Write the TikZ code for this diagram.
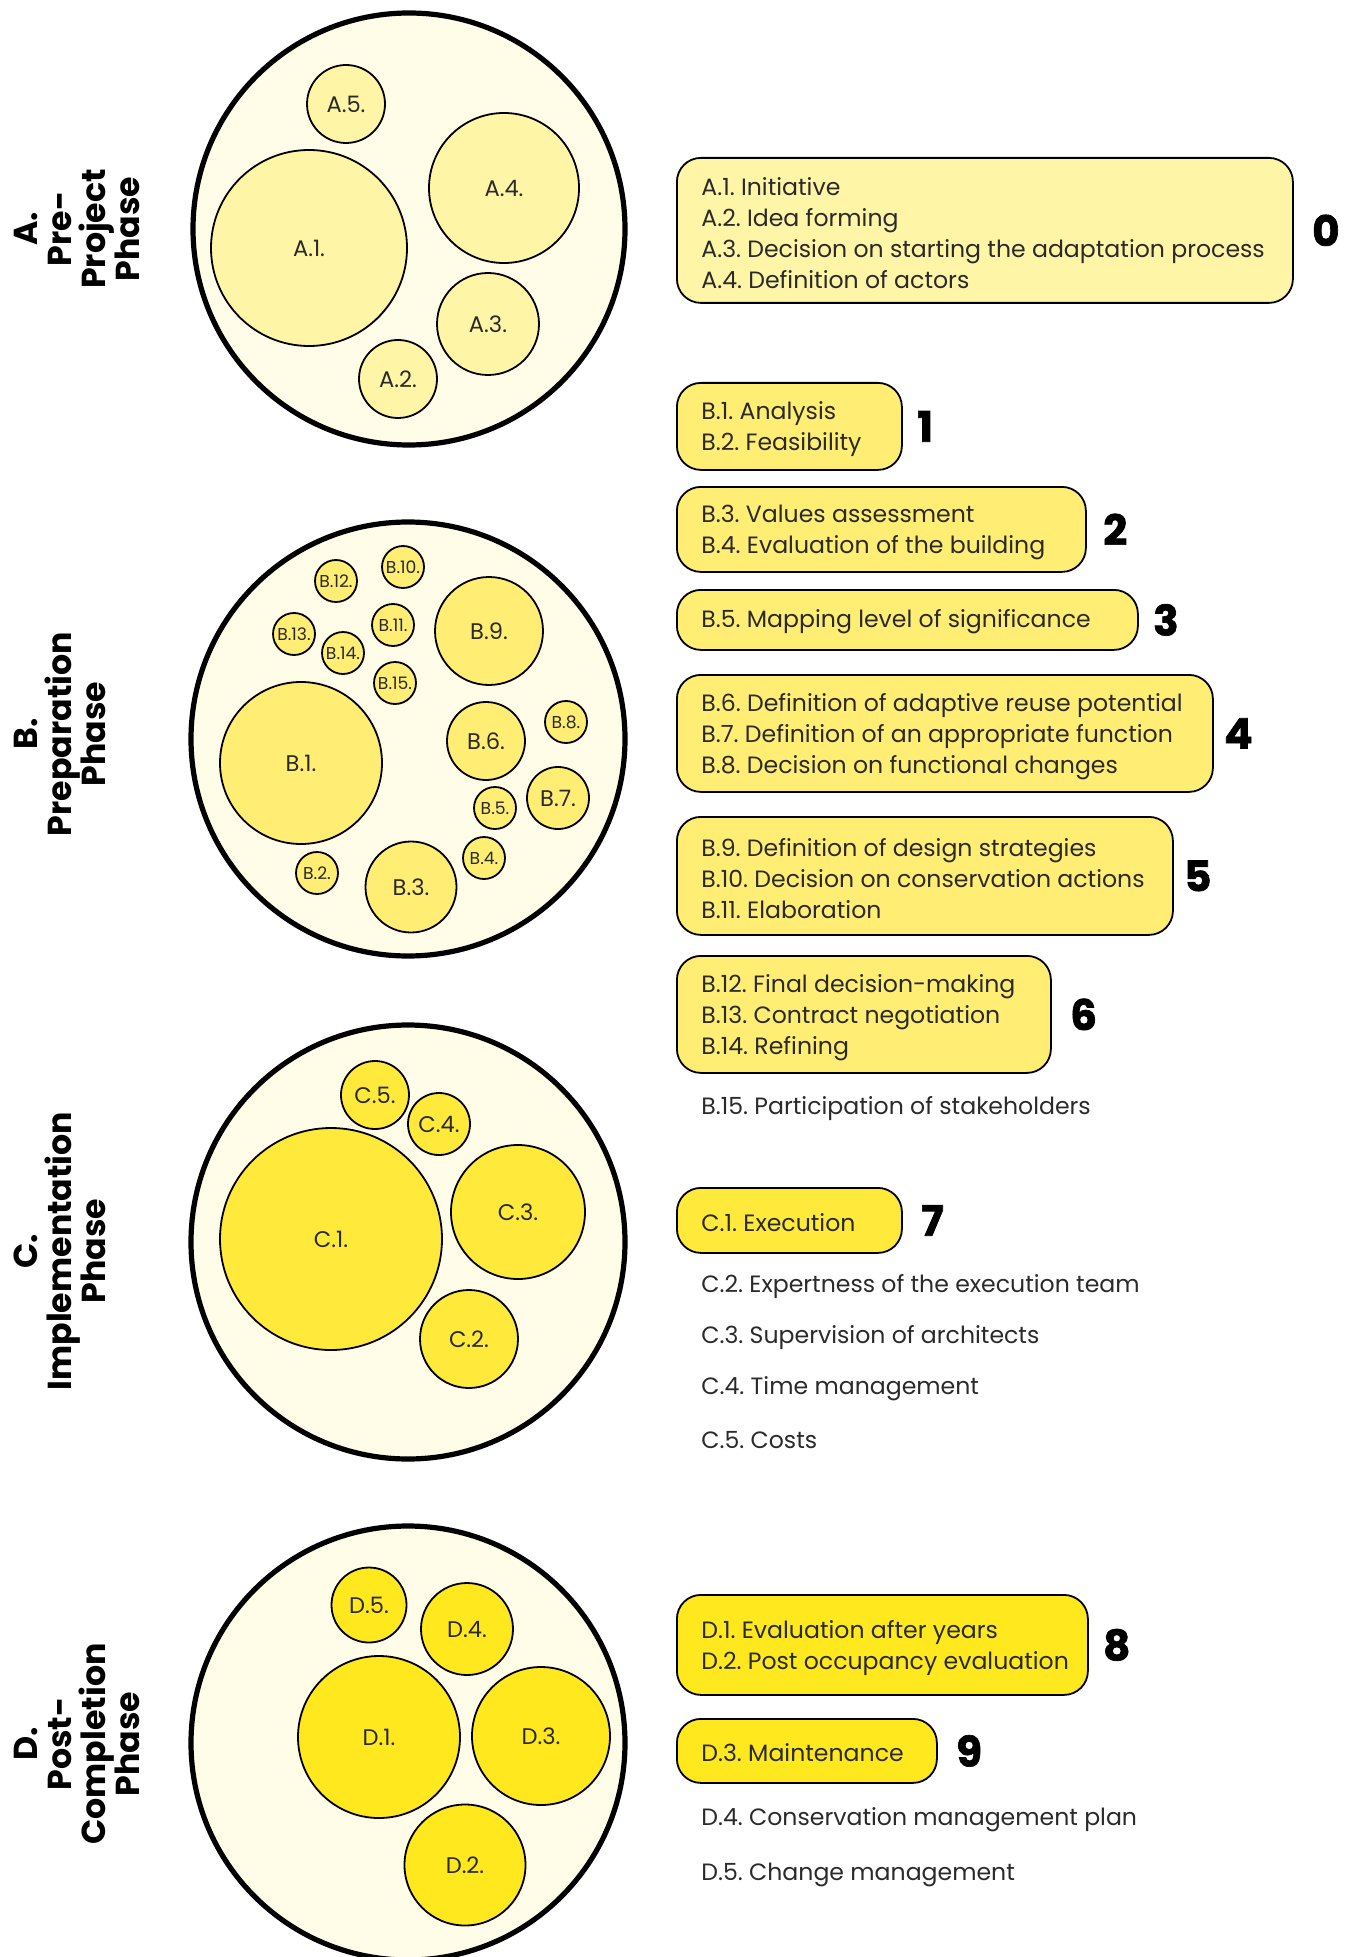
\documentclass[tikz,border=0pt]{standalone}
\usepackage{fontspec}
\setmainfont{Poppins}
\newfontfamily\rankfont{Poppins}[BoldFeatures={FakeBold=1.6}]
\usetikzlibrary{positioning}
\definecolor{ringfill}{HTML}{FFFDE8}
\definecolor{phaseA}{HTML}{FFF5A6}
\definecolor{phaseB}{HTML}{FFEE73}
\definecolor{phaseC}{HTML}{FFEA3C}
\definecolor{phaseD}{HTML}{FFE81E}
\definecolor{ink}{HTML}{2A2A2A}
\frenchspacing
\tikzset{
    ring/.style={circle, draw=black, line width=2.6pt, fill=ringfill, inner sep=0pt},
    bubble/.style={circle, draw=black, line width=0.9pt, inner sep=0pt, text=ink, font=\fontsize{11.3}{12}\selectfont},
    tinybubble/.style={bubble, font=\fontsize{8.6}{9}\selectfont},
    stepbox/.style={draw=black, line width=0.9pt, rounded corners=12pt, anchor=north west},
    steptext/.style={align=left, inner sep=0pt, text=ink, font=\fontsize{11.8}{15.5}\selectfont},
    rank/.style={inner sep=0pt, font=\fontsize{21}{21}\rankfont\bfseries},
    looseitem/.style={anchor=west, inner sep=0pt, text=ink, font=\fontsize{11.8}{15.5}\selectfont},
    phase/.style={rotate=90, align=center, font=\fontsize{16.6}{17}\selectfont\bfseries},
}

\begin{document}
\begin{tikzpicture}[x=0.5pt, y=-0.5pt]
    \useasboundingbox (0,0) rectangle (1355,1957);

    % phase A
    \node[phase] (pa) at (77,229) {A.\\Pre-\\Project\\Phase};
    \node[ring, minimum size=216pt] (ra) at (409,229) {};
    \node[bubble, fill=phaseA, minimum size=39pt] (a5) at (346,104) {A.5.};
    \node[bubble, fill=phaseA, minimum size=75pt] (a4) at (504,188) {A.4.};
    \node[bubble, fill=phaseA, minimum size=98pt] (a1) at (309,248) {A.1.};
    \node[bubble, fill=phaseA, minimum size=51pt] (a3) at (488,324) {A.3.};
    \node[bubble, fill=phaseA, minimum size=39pt] (a2) at (398,379) {A.2.};

    % phase B
    \node[phase] (pb) at (60,734) {B.\\Preparation\\Phase};
    \node[ring, minimum size=217pt] (rb) at (408,739) {};
    \node[tinybubble, fill=phaseB, minimum size=21pt] (b12) at (336,581) {B.12.};
    \node[tinybubble, fill=phaseB, minimum size=21pt] (b10) at (403,567) {B.10.};
    \node[tinybubble, fill=phaseB, minimum size=21pt] (b13) at (294,634) {B.13.};
    \node[tinybubble, fill=phaseB, minimum size=21pt] (b11) at (393,625) {B.11.};
    \node[tinybubble, fill=phaseB, minimum size=21pt] (b14) at (343,653) {B.14.};
    \node[tinybubble, fill=phaseB, minimum size=21pt] (b15) at (395,683) {B.15.};
    \node[bubble, fill=phaseB, minimum size=54pt] (b9) at (489,631) {B.9.};
    \node[bubble, fill=phaseB, minimum size=81pt] (b1) at (301,763) {B.1.};
    \node[bubble, fill=phaseB, minimum size=39pt] (b6) at (486,741) {B.6.};
    \node[tinybubble, fill=phaseB, minimum size=21pt] (b8) at (566,722) {B.8.};
    \node[bubble, fill=phaseB, minimum size=31pt] (b7) at (558,798) {B.7.};
    \node[tinybubble, fill=phaseB, minimum size=21pt] (b5) at (495,808) {B.5.};
    \node[tinybubble, fill=phaseB, minimum size=21pt] (b4) at (484,858) {B.4.};
    \node[tinybubble, fill=phaseB, minimum size=21pt] (b2) at (317,873) {B.2.};
    \node[bubble, fill=phaseB, minimum size=45.5pt] (b3) at (411,887) {B.3.};

    % phase C
    \node[phase] (pc) at (60,1251) {C.\\Implementation\\Phase};
    \node[ring, minimum size=217pt] (rc) at (408,1242) {};
    \node[bubble, fill=phaseC, minimum size=34pt] (c5) at (375,1095) {C.5.};
    \node[bubble, fill=phaseC, minimum size=31pt] (c4) at (439,1124) {C.4.};
    \node[bubble, fill=phaseC, minimum size=67pt] (c3) at (518,1212) {C.3.};
    \node[bubble, fill=phaseC, minimum size=111pt] (c1) at (331,1239) {C.1.};
    \node[bubble, fill=phaseC, minimum size=49pt] (c2) at (469,1339) {C.2.};

    % phase D
    \node[phase] (pd) at (77,1744) {D.\\Post-\\Completion\\Phase};
    \node[ring, minimum size=217pt] (rd) at (408,1743) {};
    \node[bubble, fill=phaseD, minimum size=37.5pt] (d5) at (369,1605) {D.5.};
    \node[bubble, fill=phaseD, minimum size=46pt] (d4) at (467,1629) {D.4.};
    \node[bubble, fill=phaseD, minimum size=81pt] (d1) at (379,1737) {D.1.};
    \node[bubble, fill=phaseD, minimum size=69pt] (d3) at (541,1736) {D.3.};
    \node[bubble, fill=phaseD, minimum size=60.5pt] (d2) at (465,1865) {D.2.};

    % steps
    \node[stepbox, fill=phaseA, minimum width=308pt, minimum height=72.5pt] (s0) at (676,157) {};
    \node[steptext, right=12.5pt of s0.west, yshift=-1.5pt] (l0)
        {A.1. Initiative\\A.2. Idea forming\\A.3. Decision on starting the adaptation process\\A.4. Definition of actors};
    \node[rank, right=9pt of s0] (n0) {0};
    \node[stepbox, fill=phaseB, minimum width=112.5pt, minimum height=43.5pt] (s1) at (676,382) {};
    \node[steptext, right=12.5pt of s1.west, yshift=-1.5pt] (l1) {B.1. Analysis\\B.2. Feasibility};
    \node[rank, right=7pt of s1] (n1) {1};
    \node[stepbox, fill=phaseB, minimum width=204.5pt, minimum height=42.5pt] (s2) at (676,486) {};
    \node[steptext, right=12.5pt of s2.west, yshift=-1.5pt] (l2) {B.3. Values assessment\\B.4. Evaluation of the building};
    \node[rank, right=8pt of s2] (n2) {2};
    \node[stepbox, fill=phaseB, minimum width=230.5pt, minimum height=30pt] (s3) at (676,589) {};
    \node[steptext, right=12.5pt of s3.west, yshift=-1pt] (l3) {B.5. Mapping level of significance};
    \node[rank, right=7pt of s3] (n3) {3};
    \node[stepbox, fill=phaseB, minimum width=268pt, minimum height=58.5pt] (s4) at (676,674) {};
    \node[steptext, right=12.5pt of s4.west, yshift=-1.5pt] (l4)
        {B.6. Definition of adaptive reuse potential\\B.7. Definition of an appropriate function\\B.8. Decision on functional changes};
    \node[rank, right=5pt of s4] (n4) {4};
    \node[stepbox, fill=phaseB, minimum width=248pt, minimum height=59pt] (s5) at (676,816) {};
    \node[steptext, right=12.5pt of s5.west, yshift=-1.5pt] (l5)
        {B.9. Definition of design strategies\\B.10. Decision on conservation actions\\B.11. Elaboration};
    \node[rank, right=5pt of s5] (n5) {5};
    \node[stepbox, fill=phaseB, minimum width=187pt, minimum height=58.5pt] (s6) at (676,955) {};
    \node[steptext, right=12.5pt of s6.west, yshift=-1.5pt] (l6)
        {B.12. Final decision-making\\B.13. Contract negotiation\\B.14. Refining};
    \node[rank, right=9pt of s6] (n6) {6};
    \node[looseitem] (t15) at (701,1109) {B.15. Participation of stakeholders};

    \node[stepbox, fill=phaseC, minimum width=112.5pt, minimum height=32.5pt] (s7) at (676,1187) {};
    \node[steptext, right=12.5pt of s7.west, yshift=-1pt] (l7) {C.1. Execution};
    \node[rank, right=9pt of s7] (n7) {7};
    \node[looseitem] (tc2) at (701,1287) {C.2. Expertness of the execution team};
    \node[looseitem] (tc3) at (701,1338) {C.3. Supervision of architects};
    \node[looseitem] (tc4) at (701,1389) {C.4. Time management};
    \node[looseitem] (tc5) at (701,1440) {C.5. Costs};

    \node[stepbox, fill=phaseD, minimum width=205.5pt, minimum height=50pt] (s8) at (676,1594) {};
    \node[steptext, right=12.5pt of s8.west, yshift=-1.5pt] (l8) {D.1. Evaluation after years\\D.2. Post occupancy evaluation};
    \node[rank, right=7pt of s8] (n8) {8};
    \node[stepbox, fill=phaseD, minimum width=130pt, minimum height=32pt] (s9) at (676,1718) {};
    \node[steptext, right=12.5pt of s9.west, yshift=-1pt] (l9) {D.3. Maintenance};
    \node[rank, right=9pt of s9] (n9) {9};
    \node[looseitem] (td4) at (701,1820) {D.4. Conservation management plan};
    \node[looseitem] (td5) at (701,1875) {D.5. Change management};
\end{tikzpicture}
\end{document}
